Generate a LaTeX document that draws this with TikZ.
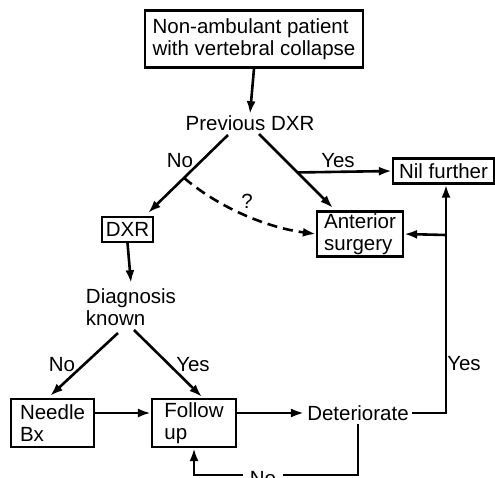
\documentclass[tikz,border=0pt]{standalone}
\usepackage{fontspec}
\setmainfont{Liberation Sans}
\usetikzlibrary{arrows.meta,calc}
\begin{document}
\begin{tikzpicture}[x=1pt,y=-1pt, line width=2.6pt,
  every node/.style={font=\fontsize{20.5}{22}\selectfont, inner sep=2pt},
  box/.style={draw, line width=2.2pt, align=left},
  arr/.style={-{Latex[length=13pt,width=9pt]}}]
\useasboundingbox (0,0) rectangle (495,478);
% nodes
\node[box, minimum width=218pt, minimum height=57pt] (top) at (254,39) {Non-ambulant patient\\with vertebral collapse};
\node (prev) at (250,123) {Previous DXR};
\node[box, minimum width=101pt, minimum height=25pt] (nil) at (443.5,171) {Nil further};
\node[box, minimum width=86pt, minimum height=44pt] (ant) at (360,234) {Anterior\\surgery};
\node[box, minimum width=51pt, minimum height=25pt] (dxr) at (127.5,229.5) {DXR};
\node[align=left] (diag) at (131,307) {Diagnosis\\known};
\node[box, minimum width=83pt, minimum height=48pt] (needle) at (52.5,423) {Needle\\Bx};
\node[box, minimum width=84pt, minimum height=48pt] (follow) at (194,423) {Follow\\up};
\node (det) at (358,413) {Deteriorate};
% coordinates
\coordinate (pL) at (228,135);
\coordinate (dxrT) at (148,213);
\coordinate (pR) at (259,134);
\coordinate (antT) at (333,208);
\coordinate (dL) at (118,333);
\coordinate (needleT) at (50,396);
\coordinate (dR) at (134,330);
\coordinate (followT) at (202,397);
\coordinate (bot) at (194,475);
\coordinate (br) at (446,235);
% connectors
\draw[arr] (top.south) -- ([yshift=-2pt]prev.north);
\draw[arr] (pL) -- (dxrT);
\draw[arr] (pR) -- (antT);
\draw[arr] ($(pR)!0.52!(antT)$) -- (nil.west);
\draw[arr, dash pattern=on 10pt off 6pt] ($(pL)!0.55!(dxrT)$) .. controls (222,210) and (270,228) .. (ant.west);
\draw[arr] (dxr.south) -- ([yshift=2pt]diag.north);
\draw[arr] (dL) -- (needleT);
\draw[arr] (dR) -- (followT);
\draw[arr] (needle.east |- det) -- (follow.west |- det);
\draw[arr] (follow.east |- det) -- (det.west);
\draw[arr] (det.east) -| ([xshift=2.5pt]nil.south);
\draw[arr] (br) -- (ant.east);
\draw[arr] (det.south) |- (bot) -- (follow.south);
% labels
\node (lNo1) at (180,161) {No};
\node (lYes1) at (338,161) {Yes};
\node (lQ) at (247,201) {?};
\node (lNo2) at (62,365) {No};
\node (lYes2) at (193,365) {Yes};
\node (lYes3) at (464,364) {Yes};
\node[fill=white, inner xsep=7pt] (lNo3) at (263,479) {No};
\end{tikzpicture}
\end{document}
